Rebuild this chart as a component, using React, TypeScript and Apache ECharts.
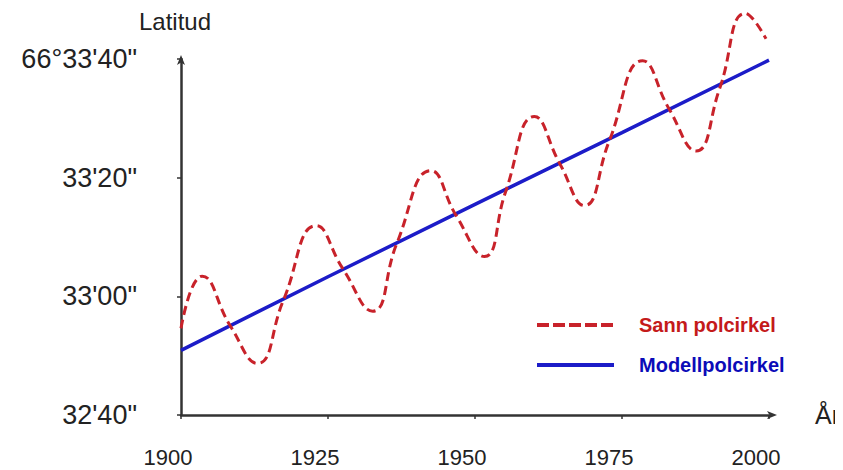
import React, { useEffect, useRef } from "react";
import * as echarts from "echarts";

// Years and latitude values (seconds past 66°32'00")
const trueYears = [1900, 1903.6, 1908.4, 1913.0, 1917.4, 1923.0, 1927.5, 1932.6, 1936.7, 1942.5, 1946.8, 1951.6, 1955.2, 1960.1, 1964.4, 1968.6, 1972.8, 1978.5, 1983.0, 1987.6, 1991.6, 1996.0, 1999.5];
const trueValues = [54.6, 63.4, 55.0, 48.7, 59.3, 71.9, 64.7, 57.5, 68.9, 81.2, 73.6, 66.7, 77.6, 90.3, 82.4, 75.3, 86.1, 99.7, 91.6, 84.5, 95.0, 107.7, 103.4];
const modelYears = [1900, 1925, 1950, 1975, 2000];
const modelValues = [50.9, 63.3, 75.5, 87.6, 99.8];
const yTickLabels: Record<number, string> = {
  40: "32'40\"",
  60: "33'00\"",
  80: "33'20\"",
  100: "66°33'40\"",
};
const seriesNames = ["Sann polcirkel", "Modellpolcirkel"];

export default function App() {
  const ref = useRef<HTMLDivElement>(null);
  useEffect(() => {
    if (!ref.current) return;
    const chart = echarts.init(ref.current, null, { renderer: "svg" });
    const font = "'Liberation Sans', Arial, sans-serif";
    chart.setOption({
      animation: false,
      backgroundColor: "#ffffff",
      grid: { left: 181, right: 66, top: 59, bottom: 55 },
      xAxis: {
        type: "value",
        min: 1900,
        max: 2000,
        interval: 25,
        name: "År",
        nameLocation: "end",
        nameGap: 46,
        nameTextStyle: { fontSize: 25, color: "#222", fontFamily: font, verticalAlign: "middle", padding: [0, 0, 8, 0] },
        splitLine: { show: false },
        axisLine: { lineStyle: { color: "#333", width: 2.5 }, symbol: ["none", "arrow"], symbolSize: [6, 10], symbolOffset: [0, 8] },
        axisTick: { show: true, length: 4, lineStyle: { color: "#333", width: 1.5 } },
        axisLabel: {
          fontSize: 22,
          color: "#222",
          fontFamily: font,
          margin: 31,
          padding: [0, 26, 0, 0],
          formatter: (v: number) => String(v),
        },
      },
      yAxis: {
        type: "value",
        min: 40,
        max: 100,
        interval: 20,
        name: "Latitud",
        nameLocation: "end",
        nameGap: 26,
        nameTextStyle: { fontSize: 24, color: "#222", fontFamily: font, padding: [0, 12, 0, 0] },
        splitLine: { show: false },
        axisLine: { lineStyle: { color: "#333", width: 2.5 }, symbol: ["none", "arrow"], symbolSize: [6, 10], symbolOffset: [0, 4] },
        axisTick: { show: true, length: 4, lineStyle: { color: "#333", width: 1.5 } },
        axisLabel: {
          fontSize: 27,
          color: "#222",
          fontFamily: font,
          margin: 44,
          formatter: (v: number) => yTickLabels[v] ?? "",
        },
      },
      legend: {
        orient: "vertical",
        left: 530,
        top: 309,
        itemWidth: 77,
        itemHeight: 14,
        itemGap: 18,
        itemStyle: { opacity: 0 },
        data: [
          { name: seriesNames[0], lineStyle: { width: 4, type: [12, 4] }, textStyle: { color: "#c41a1a" } },
          { name: seriesNames[1], lineStyle: { width: 4 }, textStyle: { color: "#0b0bb8" } },
        ],
        textStyle: { fontSize: 20, fontWeight: "bold", fontFamily: font, padding: [0, 0, 0, 20], lineHeight: 22 },
      },
      series: [
        {
          name: seriesNames[0],
          type: "line",
          data: trueYears.map((y, i) => [y, trueValues[i]]),
          smooth: true,
          symbol: "none",
          clip: false,
          z: 3,
          lineStyle: { color: "#c8222a", width: 3, type: [9, 5] },
          itemStyle: { color: "#c8222a" },
        },
        {
          name: seriesNames[1],
          type: "line",
          data: modelYears.map((y, i) => [y, modelValues[i]]),
          symbol: "none",
          clip: false,
          z: 2,
          lineStyle: { color: "#1c1cc8", width: 3.5 },
          itemStyle: { color: "#1c1cc8" },
        },
      ],
    });
    return () => chart.dispose();
  }, []);
  return <div ref={ref} style={{ width: 843, height: 470, marginLeft: -8, marginTop: -8 }} />;
}
